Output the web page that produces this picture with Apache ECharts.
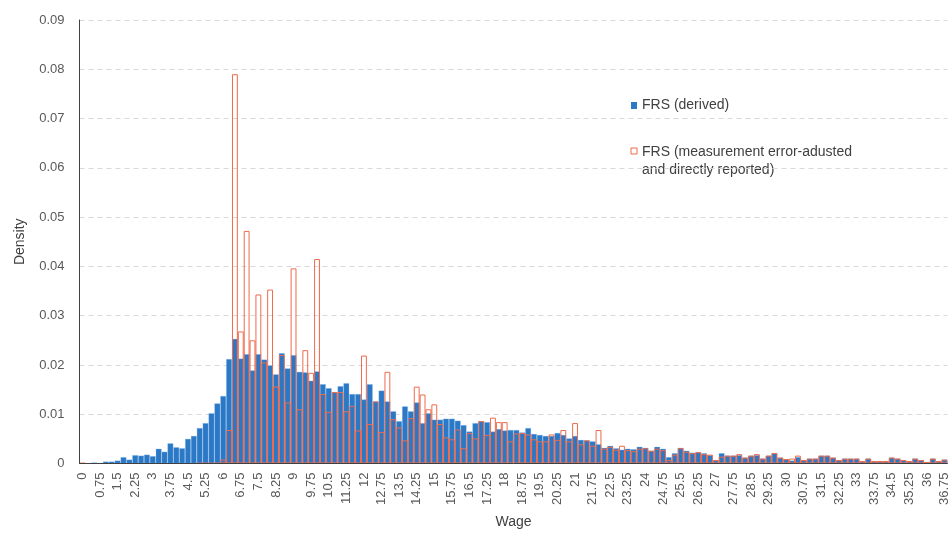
<!DOCTYPE html>
<html>
<head>
<meta charset="utf-8">
<script src="https://cdn.jsdelivr.net/npm/echarts@6/dist/echarts.min.js"></script>
<style>
html,body{margin:0;padding:0;background:#fff;}
#chart{width:951px;height:535px;}
</style>
</head>
<body>
<div id="chart"></div>
<script>
const wageBins = [0,0.25,0.5,0.75,1,1.25,1.5,1.75,2,2.25,2.5,2.75,3,3.25,3.5,3.75,4,4.25,4.5,4.75,5,5.25,5.5,5.75,6,6.25,6.5,6.75,7,7.25,7.5,7.75,8,8.25,8.5,8.75,9,9.25,9.5,9.75,10,10.25,10.5,10.75,11,11.25,11.5,11.75,12,12.25,12.5,12.75,13,13.25,13.5,13.75,14,14.25,14.5,14.75,15,15.25,15.5,15.75,16,16.25,16.5,16.75,17,17.25,17.5,17.75,18,18.25,18.5,18.75,19,19.25,19.5,19.75,20,20.25,20.5,20.75,21,21.25,21.5,21.75,22,22.25,22.5,22.75,23,23.25,23.5,23.75,24,24.25,24.5,24.75,25,25.25,25.5,25.75,26,26.25,26.5,26.75,27,27.25,27.5,27.75,28,28.25,28.5,28.75,29,29.25,29.5,29.75,30,30.25,30.5,30.75,31,31.25,31.5,31.75,32,32.25,32.5,32.75,33,33.25,33.5,33.75,34,34.25,34.5,34.75,35,35.25,35.5,35.75,36,36.25,36.5,36.75];

const derived = [
0,0,0.0002,0.0001,0.0004,0.0004,0.0006,0.0013,0.0008,0.0017,
0.0016,0.0018,0.0015,0.003,0.0024,0.0041,0.0033,0.0031,0.005,0.0056,
0.0072,0.0082,0.0102,0.0122,0.0137,0.0212,0.0253,0.0213,0.0222,0.0189,
0.0222,0.0211,0.0199,0.0181,0.0224,0.0193,0.022,0.0186,0.0185,0.0168,
0.0187,0.0161,0.0153,0.0145,0.0157,0.0163,0.0141,0.0141,0.013,0.0161,
0.0126,0.0148,0.0126,0.0106,0.0086,0.0116,0.0106,0.0124,0.0082,0.0102,
0.0089,0.0089,0.0091,0.0091,0.0087,0.0078,0.0065,0.0082,0.0086,0.0084,
0.0065,0.007,0.0067,0.0068,0.0068,0.0063,0.0072,0.006,0.0058,0.0056,
0.0056,0.0062,0.0058,0.0051,0.0056,0.0048,0.0047,0.0045,0.0039,0.0032,
0.0036,0.0031,0.0028,0.003,0.0029,0.0034,0.0032,0.0026,0.0034,0.003,
0.0013,0.0021,0.0032,0.0026,0.0022,0.0023,0.0021,0.0017,0.0007,0.0021,
0.0016,0.0016,0.0017,0.0012,0.0016,0.0017,0.001,0.0016,0.0021,0.0012,
0.0009,0.0006,0.0013,0.0007,0.001,0.001,0.0016,0.0016,0.0012,0.0007,
0.001,0.001,0.001,0.0005,0.001,0.0005,0.0005,0.0005,0.0012,0.001,
0.0007,0.0005,0.001,0.0007,0.0003,0.001,0.0005,0.0008];

const reported = [
0.0001,0,0,0,0,0,0,0,0,0,
0,0,0,0,0,0,0,0,0,0,
0.0001,0.0001,0.0001,0.0001,0.0008,0.0068,0.079,0.0268,0.0472,0.025,
0.0343,0.0205,0.0353,0.0156,0.022,0.0124,0.0396,0.011,0.023,0.0184,
0.0415,0.0141,0.0105,0.0145,0.0145,0.0106,0.0117,0.0067,0.0219,0.008,
0.0126,0.0064,0.0186,0.009,0.0073,0.0047,0.0092,0.0156,0.014,0.011,
0.012,0.008,0.0053,0.0049,0.0069,0.0031,0.0062,0.0051,0.0086,0.0058,
0.0093,0.0084,0.0084,0.0045,0.0061,0.0062,0.0059,0.0049,0.0045,0.0045,
0.0059,0.0048,0.0068,0.0045,0.0082,0.0039,0.0047,0.0036,0.0068,0.003,
0.0034,0.0028,0.0036,0.0027,0.0025,0.003,0.0031,0.0026,0.003,0.0027,
0.0007,0.0018,0.0031,0.0024,0.0021,0.0023,0.0019,0.0018,0.0007,0.0014,
0.0016,0.0016,0.0019,0.0012,0.0016,0.0019,0.001,0.0016,0.0021,0.0012,
0.0009,0.001,0.0016,0.0007,0.001,0.001,0.0016,0.0016,0.0012,0.0007,
0.001,0.001,0.001,0.0005,0.001,0.0005,0.0005,0.0005,0.0012,0.001,
0.0007,0.0005,0.001,0.0007,0.0003,0.001,0.0005,0.0008];

const seriesNames = ['FRS (derived)', 'FRS (measurement error-adusted\nand directly reported)'];
const yTicks = {min: 0, max: 0.09, step: 0.01};

const FONT = '"Liberation Sans", Arial, sans-serif';
const BLUE = '#2a78c6';
const RED = '#ef6a4b';

const chart = echarts.init(document.getElementById('chart'), null, {renderer: 'canvas'});
chart.setOption({
  animation: false,
  backgroundColor: '#fff',
  textStyle: {fontFamily: FONT},
  grid: {left: 79.5, right: -1, top: 20, bottom: 71.5, containLabel: false},
  xAxis: {
    type: 'category',
    data: wageBins.map(String),
    name: 'Wage',
    nameLocation: 'middle',
    nameGap: 52,
    nameTextStyle: {fontSize: 14, color: '#404040', fontFamily: FONT},
    axisLine: {lineStyle: {color: '#404040', width: 1}},
    axisTick: {show: false},
    axisLabel: {rotate: 90, interval: 2, fontSize: 13, color: '#595959', margin: 9, fontFamily: FONT},
    z: 5
  },
  yAxis: {
    type: 'value',
    min: yTicks.min, max: yTicks.max, interval: yTicks.step,
    name: 'Density',
    nameLocation: 'middle',
    nameGap: 52,
    nameTextStyle: {fontSize: 14, color: '#404040', fontFamily: FONT},
    axisLine: {show: true, lineStyle: {color: '#404040', width: 1}},
    axisTick: {show: false},
    axisLabel: {fontSize: 13, color: '#595959', margin: 15, fontFamily: FONT,
      formatter: v => String(+v.toFixed(2))},
    splitLine: {show: true, lineStyle: {color: '#d9d9d9', type: [5, 4], width: 1}}
  },
  series: [
    {
      name: seriesNames[0], type: 'bar', data: derived,
      barGap: '-100%', barCategoryGap: 0,
      itemStyle: {color: BLUE, borderColor: 'rgba(150,195,235,0.6)', borderWidth: 0.5},
      z: 2
    },
    {
      name: seriesNames[1], type: 'bar', data: reported,
      barGap: '-100%', barCategoryGap: 0,
      itemStyle: {color: 'rgba(255,255,255,0)', borderColor: RED, borderWidth: 1},
      z: 3
    }
  ],
  graphic: [
    {type: 'rect', left: 631, top: 102, shape: {width: 6, height: 7}, style: {fill: BLUE}},
    {type: 'text', left: 642, top: 98, style: {text: seriesNames[0], font: '14px ' + FONT, fill: '#404040'}},
    {type: 'rect', left: 630.5, top: 147.5, shape: {width: 6, height: 6}, style: {fill: '#fff', stroke: RED, lineWidth: 1}},
    {type: 'text', left: 642, top: 143, style: {text: seriesNames[1], font: '14px ' + FONT, fill: '#404040', lineHeight: 18}}
  ]
});
</script>
</body>
</html>
